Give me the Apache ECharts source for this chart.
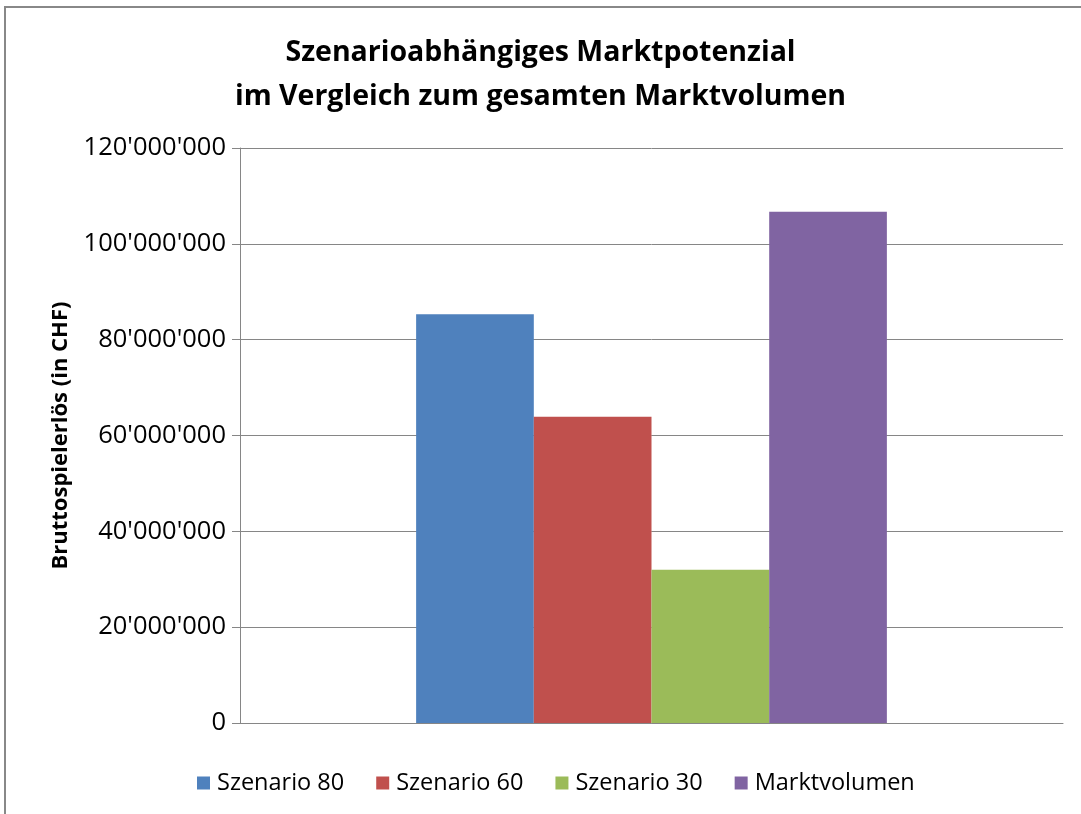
<!DOCTYPE html>
<html lang="de">
<head>
  <meta charset="UTF-8">
  <title>Marktpotenzial</title>
  <style>
    html, body { margin: 0; padding: 0; background: #fff; }
  </style>
</head>
<body>
  <div id="chart" style="width: 1081px; height: 814px;"></div>

<script src="https://cdn.jsdelivr.net/npm/echarts@6/dist/echarts.min.js"></script>
<script>
  // Werte
  const categories = [''];
  const seriesNames = ['Szenario 80', 'Szenario 60', 'Szenario 30', 'Marktvolumen'];
  const seriesValues = [85300000, 63900000, 32000000, 106700000];
  const seriesColors = ['#4F81BD', '#C0504D', '#9BBB59', '#8064A2'];

  const font = '"Open Sans", sans-serif';

  function fmt(v) {
    return String(v).replace(/\B(?=(\d{3})+(?!\d))/g, "'");
  }

  const chart = echarts.init(document.getElementById('chart'));

  const option = {
    animation: false,
    title: {
      text: 'Szenarioabhängiges Marktpotenzial\nim Vergleich zum gesamten Marktvolumen',
      left: 'center',
      top: 26,
      textStyle: {
        fontFamily: font,
        fontSize: 28.5,
        fontWeight: 'bold',
        color: '#000',
        lineHeight: 44
      }
    },
    legend: {
      bottom: 14,
      left: 192,
      itemWidth: 13,
      itemHeight: 13,
      itemGap: 32,
      icon: 'rect',
      textStyle: { fontFamily: font, fontSize: 23.5, color: '#000', padding: [0, 0, 0, 2] },
      data: seriesNames
    },
    grid: {
      left: 240,
      right: 18,
      top: 148,
      bottom: 91
    },
    xAxis: {
      type: 'category',
      data: categories,
      axisLine: { lineStyle: { color: '#868686', width: 1 } },
      axisTick: { show: false },
      axisLabel: { show: false }
    },
    yAxis: {
      type: 'value',
      min: 0,
      max: 120000000,
      interval: 20000000,
      name: 'Bruttospielerlös (in CHF)',
      nameLocation: 'middle',
      nameGap: 168,
      nameTextStyle: { fontFamily: font, fontSize: 22, fontWeight: 'bold', color: '#000' },
      axisLine: { show: true, lineStyle: { color: '#868686' } },
      axisTick: { show: true, length: 8, lineStyle: { color: '#868686' } },
      axisLabel: {
        fontFamily: font,
        fontSize: 25.5,
        color: '#000',
        margin: 14,
        formatter: fmt
      },
      splitLine: { lineStyle: { color: '#868686', width: 1 } }
    },
    graphic: [{
      type: 'polyline',
      shape: { points: [[5, 814], [5, 7], [1081, 7]] },
      style: { stroke: '#888', lineWidth: 2, fill: null },
      silent: true
    }],
    series: seriesNames.map((name, i) => ({
      name: name,
      type: 'bar',
      data: [seriesValues[i]],
      barGap: '0%',
      barCategoryGap: '42.8%',
      itemStyle: { color: seriesColors[i] }
    }))
  };

  chart.setOption(option);
</script>
</body>
</html>
